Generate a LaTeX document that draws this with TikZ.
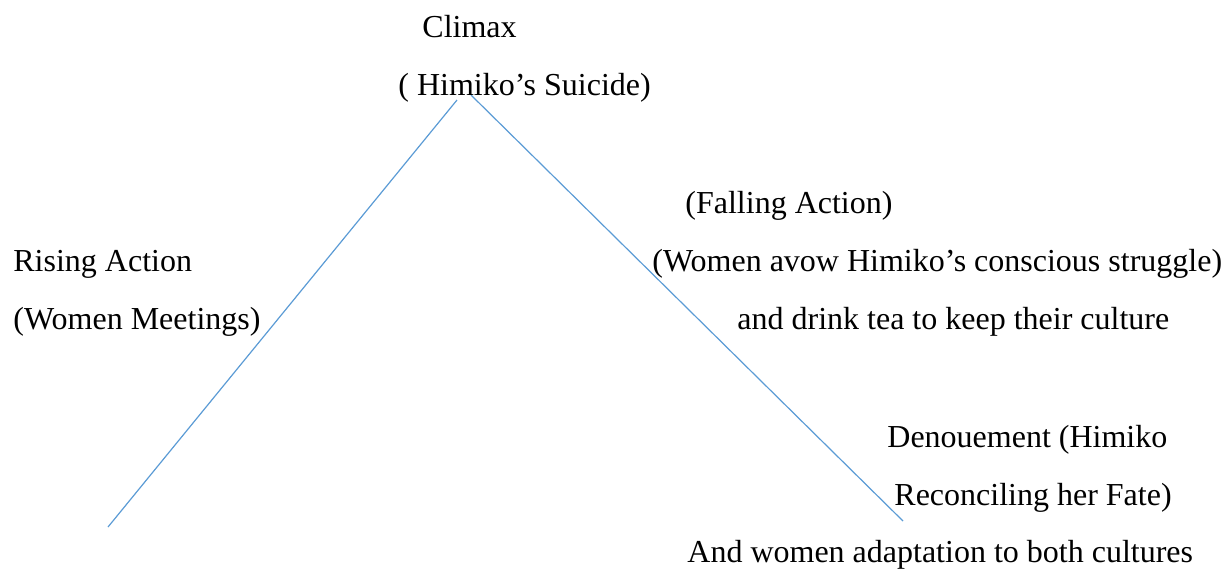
\documentclass[tikz,border=0pt]{standalone}
\usepackage{fontspec}
\setmainfont{Liberation Serif}
\definecolor{plotblue}{RGB}{91,155,213}

\begin{document}
\begin{tikzpicture}[x=0.5pt,y=-0.5pt,
  stage/.style={anchor=base west,inner sep=0pt,font=\fontsize{16}{19}\selectfont},
  plotline/.style={draw=plotblue,line width=0.6pt}]
\useasboundingbox (0,0) rectangle (1231,570);
% the two arms of the plot
\coordinate (risebottom) at (108,527);
\coordinate (risetop) at (457,100);
\coordinate (falltop) at (471,95);
\coordinate (fallbottom) at (903,521);
\draw[plotline] (risebottom) -- (risetop);
\draw[plotline] (falltop) -- (fallbottom);
% climax
\node[stage] (climax) at (422,37) {Climax};
\node[stage] (suicide) at (398,95) {( Himiko’s Suicide)};
% rising action
\node[stage] (rising) at (13,271) {Rising Action};
\node[stage] (meetings) at (13,329) {(Women Meetings)};
% falling action
\node[stage] (falling) at (685,213) {(Falling Action)};
\node[stage] (avow) at (652,271) {(Women avow Himiko’s conscious struggle)};
\node[stage] (tea) at (737,329) {and drink tea to keep their culture};
% denouement
\node[stage] (denouement) at (887,447) {Denouement (Himiko};
\node[stage] (fate) at (894,505) {Reconciling her Fate)};
\node[stage] (adapt) at (687,562) {And women adaptation to both cultures};
\end{tikzpicture}
\end{document}
